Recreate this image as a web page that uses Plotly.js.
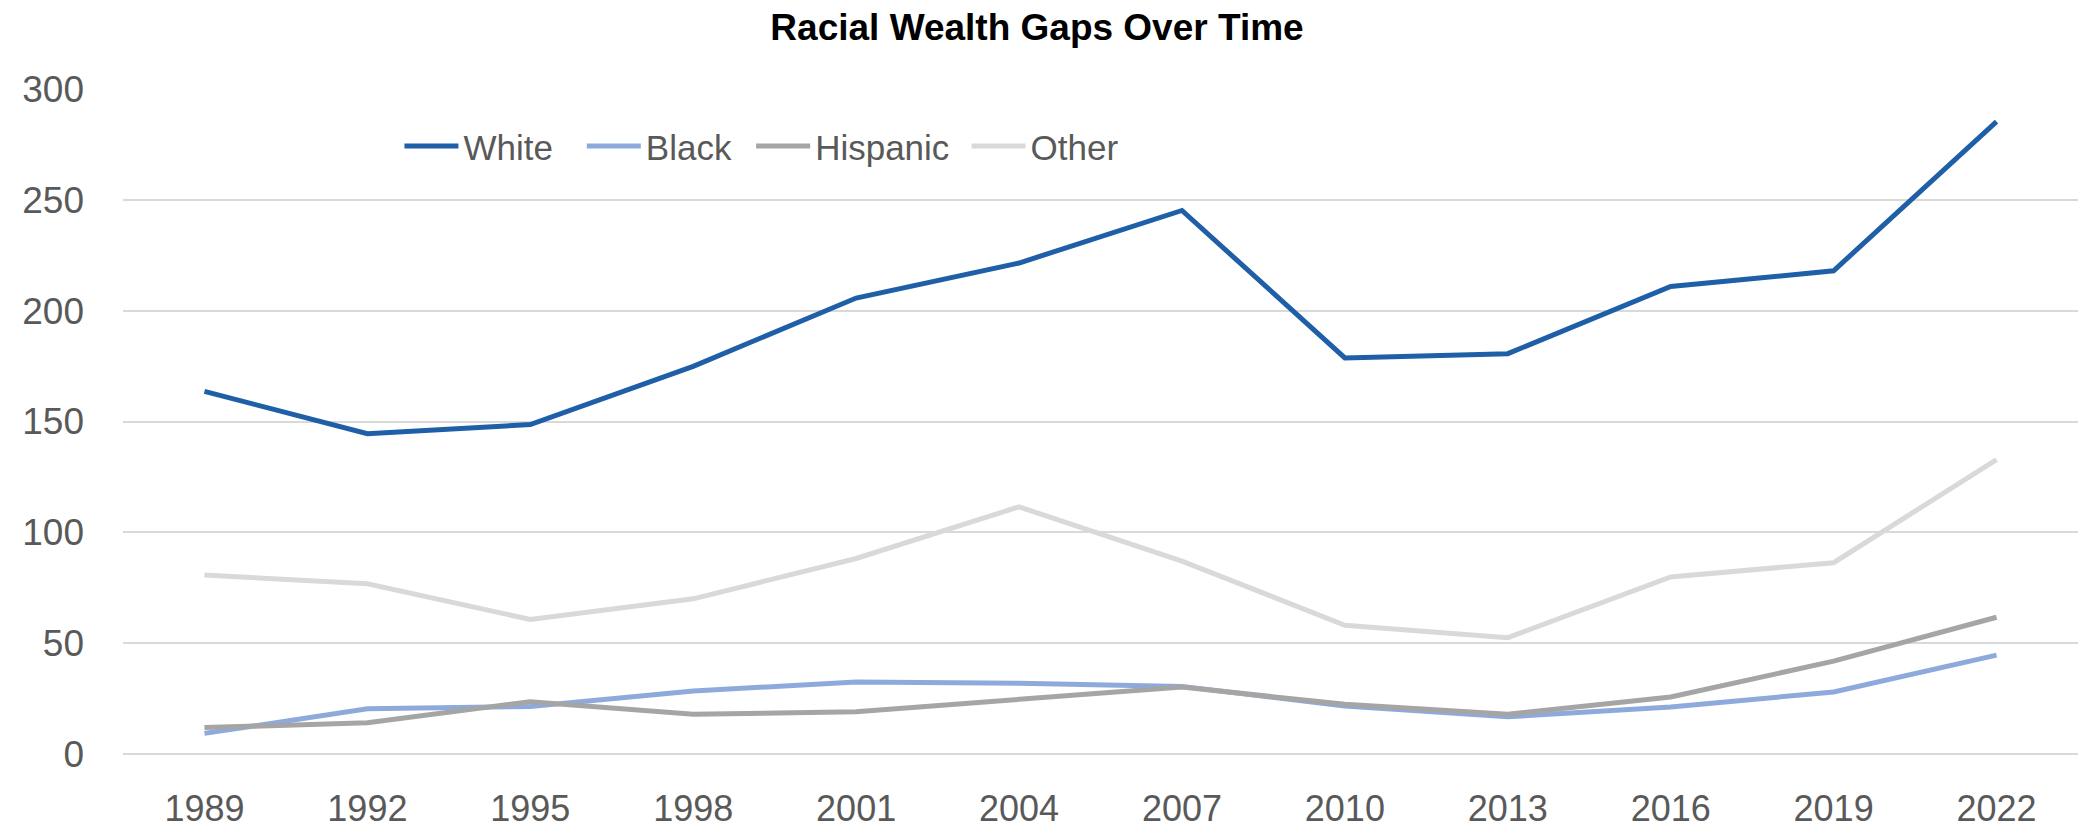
<!DOCTYPE html>
<html>
<head>
<meta charset="utf-8">
<script src="https://cdn.plot.ly/plotly-3.0.1.min.js"></script>
<style>html,body{margin:0;padding:0;background:#fff;}#chart{width:2080px;height:830px;}</style>
</head>
<body>
<div id="chart"></div>
<script>
const years = ['1989','1992','1995','1998','2001','2004','2007','2010','2013','2016','2019','2022'];
const white    = [163.6,144.5,148.6,174.9,205.7,221.5,245.2,178.7,180.6,210.9,218.0,285.3];
const black    = [9.3,20.4,21.4,28.4,32.5,31.9,30.5,21.6,16.8,21.2,28.0,44.6];
const hispanic = [11.9,14.1,23.6,17.9,19.1,24.7,30.2,22.4,17.9,25.7,41.9,61.7];
const other    = [80.7,76.8,60.7,70.0,88.2,111.5,87.0,58.1,52.5,79.9,86.3,132.8];
const yTicks = [0,50,100,150,200,250,300];

const font = 'Liberation Sans, Arial, sans-serif';
function tr(name, y, color, lg) {
  return {x: years, y: y, name: name, type: 'scatter', mode: 'lines', legend: lg,
          line: {color: color, width: 5}, hoverinfo: 'x+y'};
}
const data = [
  tr('White', white, '#1f5fa8', 'legend'),
  tr('Black', black, '#8eaadc', 'legend2'),
  tr('Hispanic', hispanic, '#a5a5a5', 'legend3'),
  tr('Other', other, '#d9d9d9', 'legend4')
];
function lg(x) {
  return {orientation: 'h', x: x, xanchor: 'left', y: 0.914, yanchor: 'middle',
          itemwidth: 54, font: {family: font, size: 35, color: '#595959'},
          bgcolor: 'rgba(0,0,0,0)'};
}
const layout = {
  width: 2080, height: 830,
  margin: {l: 123, r: 2, t: 89, b: 76, pad: 0},
  paper_bgcolor: '#ffffff', plot_bgcolor: '#ffffff',
  font: {family: font, color: '#595959'},
  title: {text: 'Racial Wealth Gaps Over Time', x: 1037/2080, xanchor: 'center',
          y: 1 - 27/830, yanchor: 'middle', yref: 'container',
          font: {family: font, size: 37, color: '#000000', weight: 'bold'}},
  showlegend: true,
  legend: lg(0.1414),
  legend2: lg(0.2347),
  legend3: lg(0.3213),
  legend4: lg(0.4315),
  xaxis: {type: 'category', range: [-0.5, 11.5], showgrid: false, zeroline: false,
          showline: false, ticks: '', ticklabelstandoff: 30,
          tickfont: {family: font, size: 36, color: '#595959'}, fixedrange: true},
  yaxis: {range: [0, 300], tickvals: yTicks, ticktext: yTicks.map(String),
          showgrid: true, gridcolor: '#d9d9d9', gridwidth: 2,
          zeroline: true, zerolinecolor: '#d9d9d9', zerolinewidth: 2,
          showline: false, ticks: '', ticklabelstandoff: 38,
          tickfont: {family: font, size: 37, color: '#595959'}, fixedrange: true}
};
Plotly.newPlot('chart', data, layout, {displayModeBar: false, staticPlot: true});
</script>
</body>
</html>
